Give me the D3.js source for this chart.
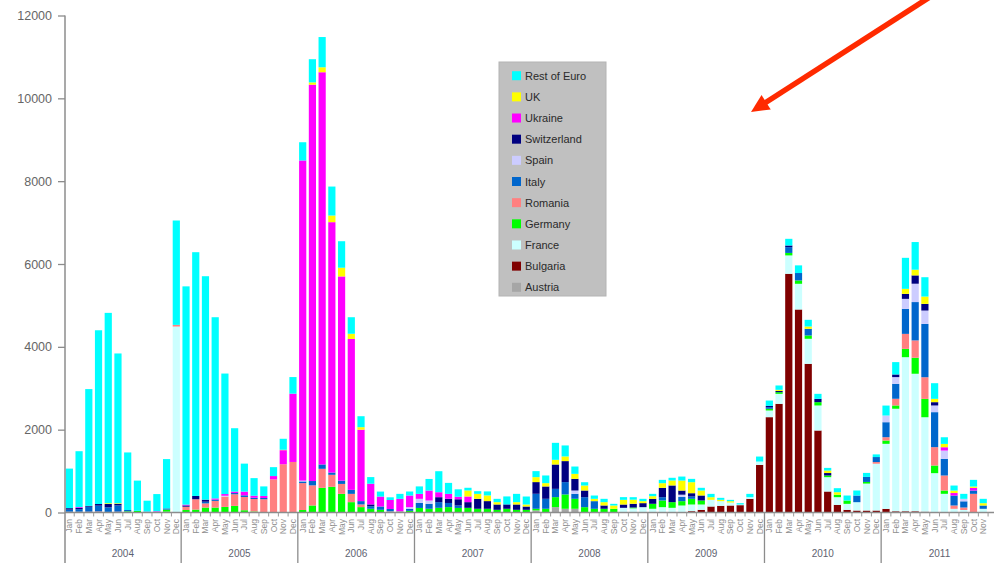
<!DOCTYPE html>
<html>
<head>
<meta charset="utf-8">
<script src="https://cdn.jsdelivr.net/npm/d3@7/dist/d3.min.js"></script>
<style>
  html, body { margin: 0; padding: 0; background: #fff; }
  svg { display: block; font-family: "Liberation Sans", Arial, sans-serif; }
</style>
</head>
<body>
<svg id="chart" width="994" height="566"></svg>
<script>
// Monthly arrivals by origin, Jan 2004 – Nov 2011
const years = ["2004", "2005", "2006", "2007", "2008", "2009", "2010", "2011"];
const monthNames = ["Jan", "Feb", "Mar", "Apr", "May", "Jun", "Jul", "Aug", "Sep", "Oct", "Nov", "Dec"];
const yTicks = [0, 2000, 4000, 6000, 8000, 10000, 12000];

// Stack order, bottom to top
const seriesKeys = ["Austria", "Bulgaria", "France", "Germany", "Romania", "Italy",
                    "Spain", "Switzerland", "Ukraine", "UK", "Rest of Euro"];

const austria = [
  20, 20, 0, 0, 0, 0, 15, 0, 0, 0, 20, 0,
  0, 0, 0, 0, 0, 0, 0, 0, 0, 0, 0, 0,
  0, 0, 0, 0, 0, 0, 0, 0, 0, 30, 30, 0,
  0, 0, 0, 0, 0, 0, 0, 0, 0, 0, 0, 0,
  50, 0, 130, 90, 90, 0, 0, 0, 0, 0, 0, 0,
  0, 0, 0, 0, 0, 0, 0, 0, 0, 0, 0, 0,
  0, 0, 0, 0, 0, 0, 0, 0, 0, 0, 0, 0,
  0, 0, 0, 0, 0, 0, 0, 0, 0, 0, 0
];
const bulgaria = [
  0, 0, 0, 0, 0, 0, 0, 0, 0, 0, 0, 0,
  0, 0, 0, 0, 0, 0, 0, 0, 0, 0, 0, 0,
  0, 0, 0, 0, 0, 0, 0, 0, 0, 0, 0, 0,
  0, 0, 0, 0, 0, 0, 0, 0, 0, 0, 0, 0,
  0, 0, 0, 0, 0, 0, 0, 0, 0, 0, 0, 0,
  0, 0, 0, 0, 32, 64, 145, 161, 169, 177, 330, 1150,
  2302, 2624, 5764, 4902, 3590, 1980, 507, 185, 64, 48, 48, 48,
  88, 30, 30, 30, 20, 0, 0, 0, 0, 0, 0
];
const france = [
  0, 0, 0, 0, 0, 0, 0, 0, 0, 0, 0, 4490,
  0, 0, 0, 0, 0, 0, 0, 0, 0, 0, 0, 0,
  0, 0, 0, 0, 0, 0, 0, 0, 0, 0, 0, 0,
  0, 0, 0, 0, 0, 0, 0, 0, 0, 0, 0, 0,
  0, 0, 0, 0, 0, 0, 0, 0, 0, 113, 100, 129,
  90, 129, 113, 169, 161, 129, 161, 113, 72, 16, 40, 80,
  161, 241, 443, 620, 604, 604, 346, 185, 145, 201, 650, 1130,
  1570, 2475, 3720, 3320, 2280, 950, 451, 89, 60, 0, 89
];
const germany = [
  0, 0, 0, 0, 15, 0, 15, 40, 0, 0, 50, 0,
  60, 70, 120, 120, 135, 160, 55, 25, 0, 0, 0, 0,
  60, 170, 595, 620, 450, 250, 130, 90, 65, 0, 0, 40,
  110, 90, 113, 130, 110, 113, 90, 90, 65, 90, 65, 65,
  40, 90, 241, 346, 241, 129, 89, 90, 89, 0, 20, 0,
  120, 161, 137, 105, 137, 97, 0, 0, 0, 0, 0, 0,
  40, 40, 60, 80, 80, 80, 40, 60, 80, 0, 40, 0,
  80, 80, 201, 386, 443, 185, 80, 0, 0, 0, 0
];
const romania = [
  0, 0, 20, 25, 0, 20, 0, 0, 0, 15, 0, 40,
  80, 250, 100, 160, 250, 280, 320, 300, 320, 800, 1165, 1220,
  650, 485, 460, 290, 240, 200, 65, 0, 0, 0, 0, 0,
  0, 0, 0, 0, 0, 0, 0, 0, 0, 0, 0, 0,
  0, 0, 0, 0, 0, 0, 0, 0, 0, 0, 0, 0,
  0, 0, 0, 0, 0, 0, 0, 0, 0, 0, 0, 0,
  0, 0, 0, 0, 0, 0, 0, 0, 0, 0, 0, 40,
  80, 161, 362, 419, 523, 443, 362, 80, 60, 451, 0
];
const italy = [
  50, 60, 120, 140, 110, 150, 30, 0, 0, 0, 30, 0,
  0, 0, 40, 30, 0, 30, 40, 30, 30, 0, 0, 0,
  40, 105, 105, 55, 80, 97, 80, 60, 80, 55, 0, 50,
  120, 120, 137, 100, 60, 0, 0, 0, 0, 0, 0, 0,
  362, 241, 200, 298, 120, 241, 185, 0, 0, 0, 0, 0,
  0, 80, 0, 100, 56, 0, 0, 0, 0, 0, 0, 0,
  40, 0, 140, 180, 161, 0, 0, 0, 0, 161, 121, 121,
  362, 362, 604, 926, 1288, 845, 403, 241, 150, 80, 80
];
const spain = [
  0, 0, 0, 0, 0, 0, 0, 0, 0, 0, 0, 0,
  0, 0, 0, 0, 20, 0, 0, 0, 0, 0, 0, 0,
  20, 0, 0, 0, 0, 0, 0, 0, 0, 0, 0, 40,
  100, 80, 0, 0, 0, 0, 0, 0, 0, 0, 0, 0,
  0, 0, 0, 0, 80, 0, 0, 0, 0, 0, 0, 0,
  0, 0, 0, 56, 0, 0, 0, 0, 0, 0, 0, 0,
  0, 0, 0, 0, 0, 0, 0, 0, 0, 0, 0, 0,
  161, 161, 241, 443, 322, 161, 200, 0, 60, 0, 0
];
const switzerland = [
  35, 30, 20, 40, 80, 40, 0, 0, 0, 0, 0, 0,
  30, 80, 50, 0, 0, 0, 0, 0, 0, 0, 0, 0,
  0, 0, 0, 0, 0, 0, 0, 45, 0, 0, 0, 0,
  0, 0, 120, 100, 150, 137, 240, 185, 129, 105, 129, 80,
  282, 298, 588, 507, 282, 161, 0, 80, 0, 80, 90, 97,
  120, 225, 403, 100, 80, 121, 0, 0, 0, 0, 0, 0,
  30, 30, 40, 0, 0, 80, 60, 0, 0, 0, 0, 0,
  0, 64, 121, 201, 161, 80, 0, 0, 0, 0, 0
];
const ukraine = [
  0, 20, 0, 0, 0, 0, 0, 0, 20, 15, 0, 0,
  20, 0, 0, 30, 40, 35, 90, 50, 50, 80, 340, 1650,
  7730, 9570, 9470, 6045, 4930, 3643, 1725, 500, 240, 217, 300, 280,
  120, 240, 120, 120, 60, 137, 0, 0, 0, 0, 0, 0,
  0, 0, 0, 0, 0, 0, 0, 0, 0, 0, 0, 0,
  0, 0, 0, 0, 0, 0, 0, 0, 0, 0, 0, 0,
  0, 0, 0, 0, 0, 0, 0, 0, 0, 0, 0, 0,
  0, 0, 0, 0, 0, 0, 80, 60, 0, 64, 0
];
const uk = [
  0, 0, 0, 0, 20, 15, 0, 0, 0, 0, 0, 0,
  0, 0, 0, 0, 0, 0, 0, 0, 0, 0, 10, 0,
  0, 55, 120, 160, 210, 125, 60, 0, 0, 0, 0, 0,
  0, 0, 0, 0, 0, 145, 120, 137, 56, 0, 56, 48,
  120, 80, 113, 113, 120, 120, 56, 80, 80, 113, 100, 48,
  64, 113, 121, 241, 266, 121, 64, 32, 32, 0, 0, 0,
  0, 27, 0, 0, 56, 0, 60, 60, 0, 0, 0, 0,
  0, 0, 121, 137, 177, 80, 80, 60, 0, 32, 56
];
const restOfEuro = [
  955, 1350, 2820, 4195, 4595, 3615, 1390, 730, 265, 415, 1190, 2520,
  5270, 5885, 5395, 4375, 2910, 1530, 675, 425, 230, 215, 265, 400,
  440, 560, 730, 700, 640, 400, 265, 160, 120, 65, 120, 97,
  180, 280, 507, 265, 180, 65, 65, 97, 80, 193, 200, 193,
  145, 185, 410, 265, 177, 80, 80, 80, 40, 65, 60, 56,
  56, 80, 64, 97, 80, 64, 80, 48, 32, 32, 80, 121,
  130, 105, 161, 185, 161, 121, 64, 97, 121, 121, 97, 64,
  241, 298, 749, 668, 467, 378, 161, 121, 120, 161, 105
];

const seriesValues = {
  "Austria": austria, "Bulgaria": bulgaria, "France": france, "Germany": germany,
  "Romania": romania, "Italy": italy, "Spain": spain, "Switzerland": switzerland,
  "Ukraine": ukraine, "UK": uk, "Rest of Euro": restOfEuro
};
const seriesColors = {
  "Austria": "#a6a6a6", "Bulgaria": "#800000", "France": "#ccffff", "Germany": "#00ff00",
  "Romania": "#ff8080", "Italy": "#0066cc", "Spain": "#ccccff", "Switzerland": "#000080",
  "Ukraine": "#ff00ff", "UK": "#ffff00", "Rest of Euro": "#00ffff"
};

// One row per month
const nMonths = restOfEuro.length;
const rows = d3.range(nMonths).map(i => {
  const r = { idx: i, month: monthNames[i % 12], year: years[Math.floor(i / 12)] };
  seriesKeys.forEach(k => { r[k] = seriesValues[k][i]; });
  return r;
});

const svg = d3.select("#chart");
const axisX = 65, baseY = 512.5, topY = 15.5;
const monthStep = 9.722;

const x = d3.scaleBand()
  .domain(d3.range(nMonths))
  .range([axisX - 0.5, axisX - 0.5 + monthStep * nMonths])
  .paddingInner(0.26)
  .paddingOuter(0.13);

const y = d3.scaleLinear().domain([0, 12000]).range([baseY, topY]);

// Stacked bars
const stacked = d3.stack().keys(seriesKeys)(rows);
svg.append("g").selectAll("g")
  .data(stacked)
  .join("g")
  .attr("fill", d => seriesColors[d.key])
  .selectAll("rect")
  .data(d => d)
  .join("rect")
  .attr("x", d => x(d.data.idx))
  .attr("width", x.bandwidth())
  .attr("y", d => y(d[1]))
  .attr("height", d => Math.max(0, y(d[0]) - y(d[1])));

// Y axis
const yAxis = d3.axisLeft(y).tickValues(yTicks).tickSize(7).tickPadding(6).tickFormat(d3.format("d"));
const gy = svg.append("g").attr("transform", `translate(${axisX},0)`).call(yAxis);
gy.select(".domain").remove();
gy.selectAll(".tick line").attr("stroke", "#8c8c8c").attr("stroke-width", 1.3);
gy.selectAll(".tick text").attr("fill", "#666").style("font-size", "12.5px")
  .style("font-family", "'Liberation Sans', Arial, sans-serif");
svg.append("line")
  .attr("x1", axisX).attr("x2", axisX).attr("y1", topY).attr("y2", 563)
  .attr("stroke", "#8c8c8c").attr("stroke-width", 1.5);

// X axis: baseline, month ticks, month labels, year separators and labels
const step = x.step();
const boundary = i => x.range()[0] + i * step;
svg.append("line")
  .attr("x1", axisX).attr("x2", 994).attr("y1", baseY).attr("y2", baseY)
  .attr("stroke", "#8c8c8c").attr("stroke-width", 1.3);

svg.append("g").selectAll("line")
  .data(d3.range(nMonths + 1).filter(i => i % 12 !== 0))
  .join("line")
  .attr("x1", i => boundary(i)).attr("x2", i => boundary(i))
  .attr("y1", baseY).attr("y2", baseY + 4)
  .attr("stroke", "#9a9a9a").attr("stroke-width", 1);

svg.append("g").selectAll("text")
  .data(rows)
  .join("text")
  .attr("transform", d => `translate(${x(d.idx) + x.bandwidth() / 2 + 3},519) rotate(-90)`)
  .attr("text-anchor", "end")
  .attr("fill", "#8f8f8f")
  .style("font-size", "8.5px")
  .text(d => d.month);

const yearStarts = years.map((yr, k) => ({ yr, k }));
svg.append("g").selectAll("line")
  .data(yearStarts.filter(d => d.k > 0))
  .join("line")
  .attr("x1", d => boundary(d.k * 12)).attr("x2", d => boundary(d.k * 12))
  .attr("y1", baseY).attr("y2", 563)
  .attr("stroke", "#8c8c8c").attr("stroke-width", 1.3);

svg.append("g").selectAll("text")
  .data(yearStarts)
  .join("text")
  .attr("x", d => boundary(d.k * 12) + step * 6)
  .attr("y", 557)
  .attr("text-anchor", "middle")
  .attr("fill", "#5e6270")
  .style("font-size", "10px")
  .text(d => d.yr);

// Legend
const legend = svg.append("g").attr("transform", "translate(499,62)");
legend.append("rect")
  .attr("width", 107).attr("height", 234)
  .attr("fill", "#c0c0c0").attr("stroke", "#b4b4b4");
const legendKeys = seriesKeys.slice().reverse();
const li = legend.selectAll("g.item")
  .data(legendKeys)
  .join("g")
  .attr("class", "item")
  .attr("transform", (d, i) => `translate(0,${13.7 + i * 21.16})`);
li.append("rect")
  .attr("x", 13).attr("y", -4.5).attr("width", 9).attr("height", 9)
  .attr("fill", d => seriesColors[d]);
li.append("text")
  .attr("x", 26).attr("y", 4)
  .attr("fill", "#2a2a2a")
  .style("font-size", "11px")
  .text(d => d);

// Red pointer arrow
const tip = [751, 112], tail = [940, -9.5];
const dx = tail[0] - tip[0], dy = tail[1] - tip[1], len = Math.hypot(dx, dy);
const ux = dx / len, uy = dy / len;
const headLen = 18, headHalf = 8.5;
const bx = tip[0] + ux * headLen, by = tip[1] + uy * headLen;
svg.append("line")
  .attr("x1", tail[0]).attr("y1", tail[1])
  .attr("x2", bx - ux * 1).attr("y2", by - uy * 1)
  .attr("stroke", "#ff2a00").attr("stroke-width", 5.5);
svg.append("polygon")
  .attr("points", [
    tip,
    [bx - uy * headHalf, by + ux * headHalf],
    [bx + uy * headHalf, by - ux * headHalf]
  ].map(p => p.join(",")).join(" "))
  .attr("fill", "#ff2a00");
</script>
</body>
</html>
